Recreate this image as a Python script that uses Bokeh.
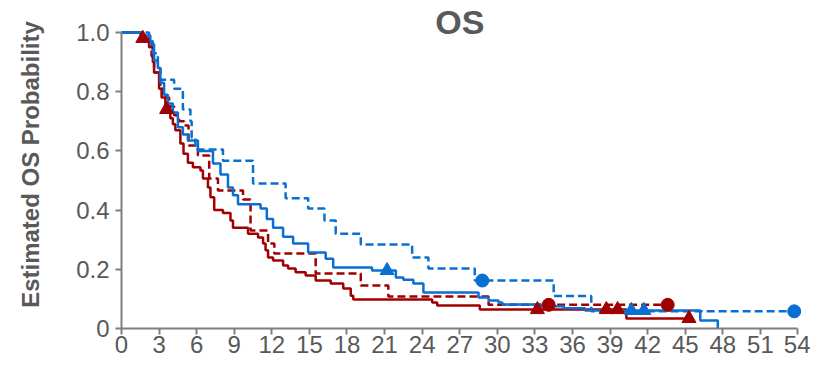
from bokeh.plotting import figure
from bokeh.models import Range1d, FixedTicker, PrintfTickFormatter, Label
from bokeh.embed import file_html
from bokeh.resources import INLINE

# ---- data ----
x_ticks = [0, 3, 6, 9, 12, 15, 18, 21, 24, 27, 30, 33, 36, 39, 42, 45, 48, 51, 54]
y_ticks = [0, 0.2, 0.4, 0.6, 0.8, 1.0]

# Blue solid arm
blue_solid_t = [0, 1.5, 2.3, 2.6, 2.9, 3.1, 3.4, 3.7, 4.1, 4.5, 4.9, 5.3, 6.1, 7.3, 7.9, 8.5,
                8.9, 9.3, 11.1, 11.6, 12.1, 12.9, 13.7, 14.9, 16.3, 16.9, 20.0, 21.9, 22.5,
                23.3, 24.1, 28.5, 29.3, 30.1, 30.4, 33.5, 35.3, 37.0, 46.2, 47.6]
blue_solid_s = [1.0, 0.99, 0.96, 0.905, 0.88, 0.83, 0.79, 0.76, 0.73, 0.68, 0.655, 0.635, 0.60,
                0.557, 0.52, 0.476, 0.45, 0.42, 0.405, 0.37, 0.34, 0.31, 0.287, 0.257, 0.236,
                0.206, 0.196, 0.172, 0.165, 0.152, 0.122, 0.105, 0.095, 0.088, 0.081, 0.075,
                0.068, 0.061, 0.027, 0.0]
blue_solid_cens_t = [21.2, 40.7, 41.7]
blue_solid_cens_s = [0.196, 0.061, 0.061]

# Blue dashed arm
blue_dash_t = [0, 2.2, 2.5, 2.9, 3.1, 4.2, 4.9, 5.5, 5.6, 5.9, 8.1, 10.5, 13.1, 14.9, 16.2,
               17.1, 19.1, 23.2, 24.5, 28.2, 34.5, 37.5, 53.7]
blue_dash_s = [1.0, 0.97, 0.93, 0.88, 0.84, 0.81, 0.74, 0.70, 0.645, 0.605, 0.567, 0.49, 0.44,
               0.405, 0.365, 0.32, 0.284, 0.24, 0.203, 0.162, 0.11, 0.058, 0.058]
blue_dash_cens_t = [28.8, 53.7]
blue_dash_cens_s = [0.162, 0.058]

# Red solid arm
red_solid_t = [0, 1.6, 2.2, 2.5, 2.6, 3.0, 3.2, 3.5, 3.9, 4.1, 4.3, 4.7, 4.95, 5.3, 5.7, 6.3,
               6.5, 6.9, 7.1, 7.4, 8.1, 8.7, 8.9, 10.1, 10.9, 11.3, 11.5, 11.7, 12.1, 12.9,
               13.3, 13.9, 14.7, 15.5, 16.7, 17.7, 18.3, 18.5, 24.8, 25.2, 28.6, 40.3, 45.3]
red_solid_s = [1.0, 0.98, 0.95, 0.90, 0.865, 0.81, 0.78, 0.74, 0.71, 0.69, 0.67, 0.625, 0.59,
               0.56, 0.545, 0.534, 0.507, 0.476, 0.443, 0.40, 0.39, 0.365, 0.34, 0.32, 0.307,
               0.287, 0.264, 0.24, 0.23, 0.213, 0.203, 0.19, 0.179, 0.162, 0.152, 0.135, 0.111,
               0.098, 0.088, 0.078, 0.064, 0.034, 0.034]
red_solid_cens_t = [1.7, 3.6, 33.2, 38.7, 39.6, 45.3]
red_solid_cens_s = [0.98, 0.74, 0.064, 0.064, 0.064, 0.034]

# Red dashed arm
red_dash_t = [0, 1.8, 2.4, 2.6, 3.1, 3.3, 3.8, 4.2, 4.6, 5.0, 5.35, 6.1, 7.0, 7.7, 9.7, 10.3,
              11.7, 12.2, 15.5, 19.1, 21.3, 29.3, 43.6]
red_dash_s = [1.0, 0.97, 0.92, 0.865, 0.81, 0.78, 0.75, 0.72, 0.70, 0.686, 0.618, 0.584, 0.507,
              0.466, 0.436, 0.331, 0.287, 0.253, 0.186, 0.145, 0.108, 0.08, 0.08]
red_dash_cens_t = [34.1, 43.6]
red_dash_cens_s = [0.08, 0.08]

BLUE = "#0A6FD2"
RED = "#A00000"
GREY = "#595959"
AXIS = "#7F7F7F"
FONT = "Liberation Sans"

p = figure(width=810, height=359, output_backend="svg", toolbar_location=None,
           x_range=Range1d(0, 54.6), y_range=Range1d(0, 1.108),
           min_border_left=121, min_border_right=5, min_border_top=0, min_border_bottom=31)
p.outline_line_color = None
p.xgrid.visible = False
p.ygrid.visible = False
p.background_fill_color = "white"

# curves
p.step(red_solid_t, red_solid_s, mode="after", line_color=RED, line_width=2.5)
p.step(red_dash_t, red_dash_s, mode="after", line_color=RED, line_width=2.5, line_dash="8 4")
p.step(blue_solid_t, blue_solid_s, mode="after", line_color=BLUE, line_width=2.5)
p.step(blue_dash_t, blue_dash_s, mode="after", line_color=BLUE, line_width=2.5, line_dash="8 4")

# censor marks
p.scatter(red_solid_cens_t, red_solid_cens_s, marker="triangle", size=14, color=RED)
p.scatter(red_dash_cens_t, red_dash_cens_s, marker="circle", size=13, color=RED)
p.scatter(blue_solid_cens_t, blue_solid_cens_s, marker="triangle", size=14, color=BLUE)
p.scatter(blue_dash_cens_t, blue_dash_cens_s, marker="circle", size=13, color=BLUE)

# axes
p.xaxis.ticker = FixedTicker(ticks=x_ticks)
p.xaxis.bounds = (0, 54)
p.yaxis.ticker = FixedTicker(ticks=y_ticks)
p.yaxis.bounds = (0, 1)
p.yaxis.formatter = PrintfTickFormatter(format="%.1f")
p.yaxis.major_label_overrides = {0: "0"}
for ax in (p.xaxis[0], p.yaxis[0]):
    ax.axis_line_color = AXIS
    ax.axis_line_width = 2
    ax.major_tick_line_color = AXIS
    ax.major_tick_line_width = 2
    ax.major_tick_in = 0
    ax.major_tick_out = 6
    ax.minor_tick_line_color = None
    ax.major_label_text_color = GREY
    ax.major_label_text_font = FONT
    ax.major_label_text_font_size = "24px"
p.xaxis.major_label_standoff = 1
p.yaxis.major_label_standoff = 6
p.yaxis.axis_label = "Estimated OS Probability"
p.yaxis.axis_label_text_font = FONT
p.yaxis.axis_label_text_font_style = "bold"
p.yaxis.axis_label_text_font_size = "24px"
p.yaxis.axis_label_text_color = GREY
p.yaxis.axis_label_standoff = 29

title = Label(x=27, y=1.0, y_offset=10, text="OS", text_align="center", text_baseline="middle",
              text_font=FONT, text_font_style="bold", text_font_size="34px", text_color=GREY)
p.add_layout(title)

open("out.html", "w").write(file_html(p, INLINE))
